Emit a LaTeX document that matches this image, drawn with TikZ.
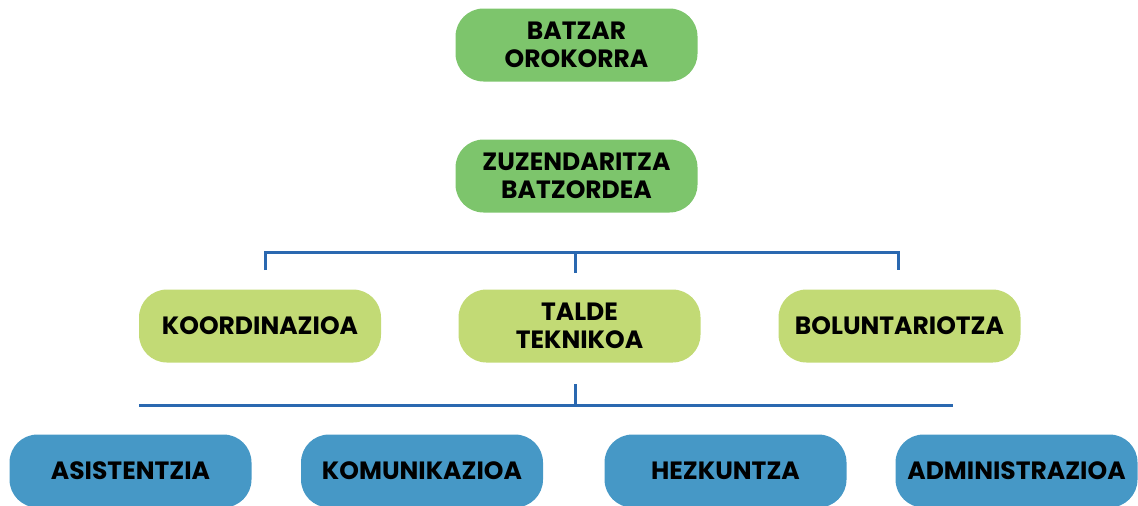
\documentclass[tikz,border=0pt]{standalone}
\usepackage{fontspec}
\setmainfont{Poppins}
\definecolor{topgreen}{HTML}{7DC56C}
\definecolor{midgreen}{HTML}{C2DA75}
\definecolor{lowblue}{HTML}{4698C6}
\definecolor{lineblue}{HTML}{2A68B0}

\begin{document}
\begin{tikzpicture}[x=0.5pt,y=-0.5pt]

	\tikzset{box/.style={rounded corners=14pt, minimum width=121pt, minimum height=36.5pt,
			inner sep=0pt, align=center, font=\bfseries\fontsize{12.5}{14}\selectfont},
		topbox/.style={box, fill=topgreen},
		midbox/.style={box, fill=midgreen},
		lowbox/.style={box, fill=lowblue},
		conn/.style={draw=lineblue, line width=1.5pt}}
	\useasboundingbox (0,0) rectangle (1138,505);

	\node[topbox] (batzar) at (576.5,45) {BATZAR\\OROKORRA};
	\node[topbox] (zuzen) at (576.5,176) {ZUZENDARITZA\\BATZORDEA};

	\node[midbox] (koord) at (260,326) {KOORDINAZIOA};
	\node[midbox] (talde) at (579.5,326) {TALDE\\TEKNIKOA};
	\node[midbox] (bolun) at (899.5,326) {BOLUNTARIOTZA};

	\node[lowbox] (asist) at (130.5,471) {ASISTENTZIA};
	\node[lowbox] (komun) at (422,471) {KOMUNIKAZIOA};
	\node[lowbox] (hezk) at (725.5,471) {HEZKUNTZA};
	\node[lowbox] (admin) at (1016.5,471) {ADMINISTRAZIOA};

	\coordinate (barl) at (265,252);
	\coordinate (barc) at (575,252);
	\coordinate (barr) at (898,252);
	\draw[conn] (265,270) -- (barl) -- (barr) -- (898,270);
	\draw[conn] (barc) -- (575,273);

	\coordinate (lowl) at (139,405);
	\coordinate (lowc) at (575,405);
	\coordinate (lowr) at (953,405);
	\draw[conn] (lowl) -- (lowr);
	\draw[conn] (575,384) -- (lowc);

\end{tikzpicture}
\end{document}
